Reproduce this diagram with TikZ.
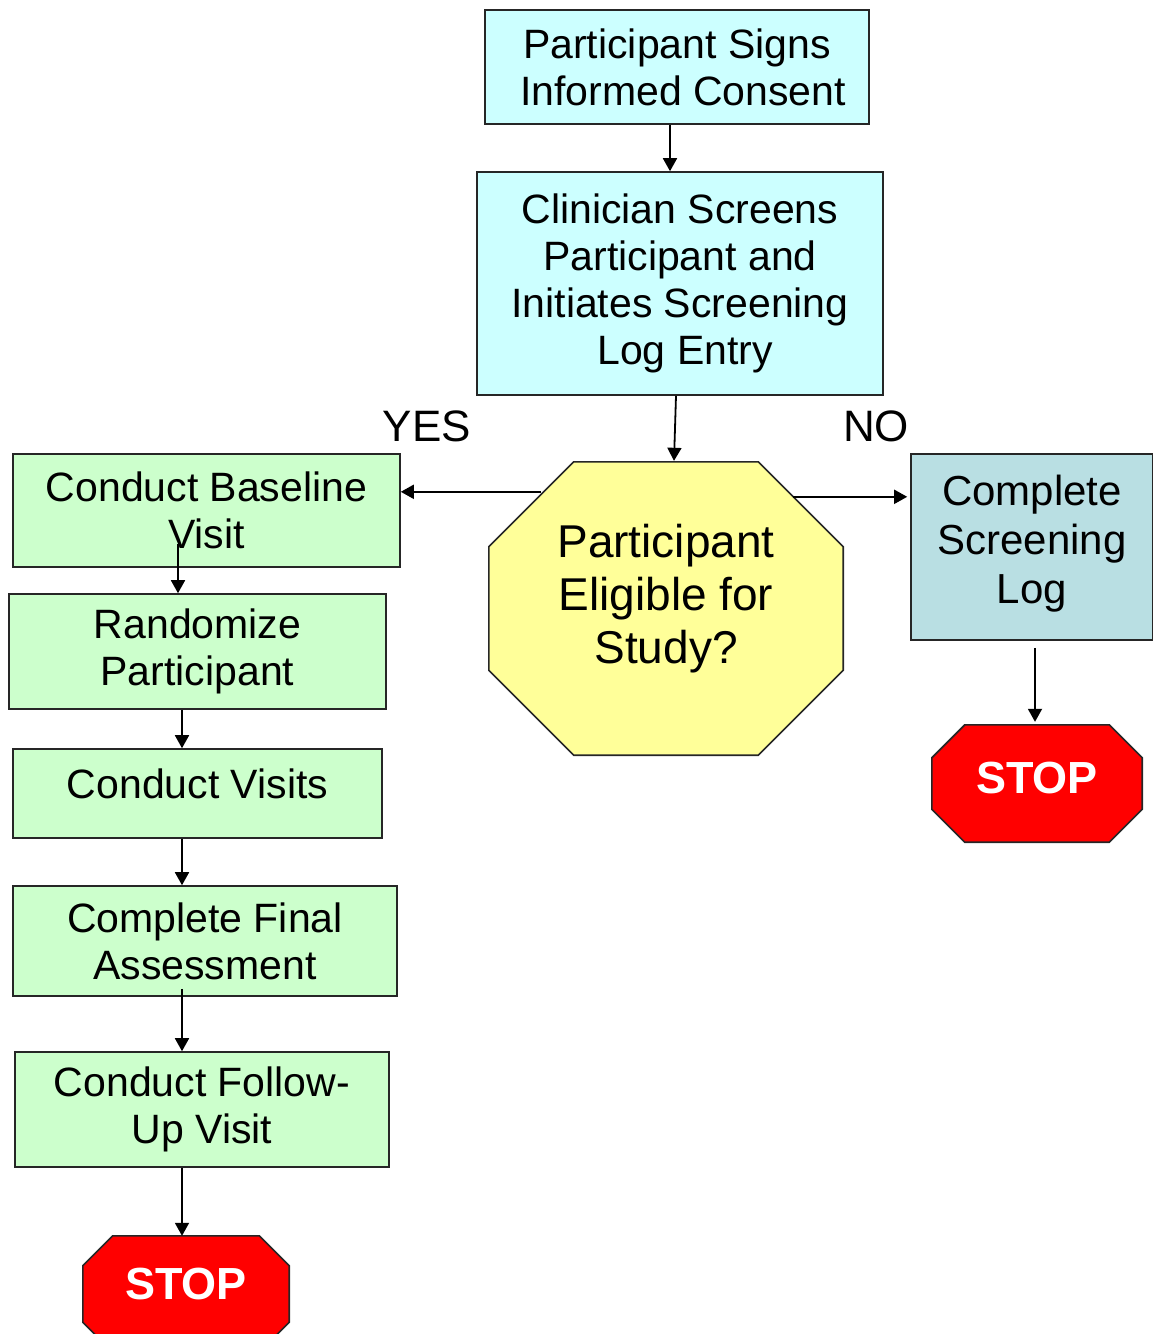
\documentclass[tikz,border=0pt]{standalone}
\usepackage{fontspec}
\setmainfont{Liberation Sans}
\usetikzlibrary{arrows.meta,calc}
\definecolor{cyanbox}{HTML}{CCFFFF}
\definecolor{greenbox}{HTML}{CCFFCC}
\definecolor{yellowbox}{HTML}{FFFF99}
\definecolor{logbox}{HTML}{B9DFE3}
\definecolor{stopred}{HTML}{FF0000}
\newcommand\octshape[3]{%
  \filldraw[#3] ($(#1.north west)+(#2,0)$) -- ($(#1.north east)+(-#2,0)$) -- ($(#1.north east)+(0,#2)$)
   -- ($(#1.south east)+(0,-#2)$) -- ($(#1.south east)+(-#2,0)$) -- ($(#1.south west)+(#2,0)$)
   -- ($(#1.south west)+(0,-#2)$) -- ($(#1.north west)+(0,#2)$) -- cycle;}
\begin{document}
\begin{tikzpicture}[x=1pt,y=-1pt,
  box/.style={draw=black!85, line width=1.6pt, align=center, inner sep=0pt, font=\fontsize{41}{47}\selectfont},
  octline/.style={draw=black!85, line width=1.6pt},
  lbl/.style={inner sep=0pt, font=\fontsize{44}{50}\selectfont},
  stoptxt/.style={inner sep=0pt, text=white, font=\fontsize{45}{50}\selectfont\bfseries},
  arr/.style={line width=1.8pt, -{Triangle[width=14pt,length=13pt]}}]
\useasboundingbox (0,0) rectangle (1153,1334);

% top boxes
\node[box, fill=cyanbox, minimum width=384pt, minimum height=114pt] (consent) at (677,67) {Participant Signs\\\hspace*{12pt}Informed Consent};
\node[box, fill=cyanbox, minimum width=406pt, minimum height=223pt, text depth=8pt] (clin) at (680,283.5) {Clinician Screens\\Participant and\\Initiates Screening\\\hspace*{10pt}Log Entry};

% decision octagon
\node[inner sep=0pt, minimum width=354pt, minimum height=293pt] (elig) at (666,608.5) {};
\octshape{elig}{85}{octline, fill=yellowbox}
\node[inner sep=0pt, align=center, font=\fontsize{46}{53}\selectfont] (eligtxt) at (666,599) {Participant\\Eligible for\\Study?};

\node[lbl] (yes) at (427,426) {YES};
\node[lbl] (no) at (876,426) {NO};

% right branch
\node[box, fill=logbox, minimum width=242pt, minimum height=186pt, font=\fontsize{42}{49}\selectfont, text depth=16pt] (screen) at (1032,547) {Complete\\Screening\\Log};
\node[inner sep=0pt, minimum width=210pt, minimum height=117pt] (stopR) at (1037,783.5) {};
\octshape{stopR}{33}{octline, fill=stopred}
\node[stoptxt] (stopRtxt) at (1037,778) {STOP};

% left branch
\node[box, fill=greenbox, minimum width=387pt, minimum height=113pt] (base) at (206.5,510.5) {Conduct Baseline\\Visit};
\node[box, fill=greenbox, minimum width=377pt, minimum height=115pt] (rand) at (197.5,651.5) {Randomize\\Participant};
\node[box, fill=greenbox, minimum width=369pt, minimum height=89pt, text depth=20pt] (visits) at (197.5,793.5) {Conduct Visits};
\node[box, fill=greenbox, minimum width=384pt, minimum height=110pt] (final) at (205,941) {Complete Final\\Assessment};
\node[box, fill=greenbox, minimum width=374pt, minimum height=115pt] (follow) at (202,1109.5) {Conduct Follow-\\Up Visit};
\node[inner sep=0pt, minimum width=206pt, minimum height=116pt] (stopB) at (186,1294) {};
\octshape{stopB}{30}{octline, fill=stopred}
\node[stoptxt] (stopBtxt) at (186,1284) {STOP};

% connectors
\coordinate (c1) at ($(consent.south)+(-7,0)$);
\draw[arr] (c1) -- (c1 |- clin.north);
\draw[arr] ($(clin.south)+(-4,0)$) -- ($(elig.north)+(8,-1)$);
\coordinate (yesstart) at ($(elig.north west)+(52,30)$);
\draw[arr] (yesstart) -- (yesstart -| base.east);
\coordinate (nostart) at ($(elig.north east)+(-50,35)$);
\draw[arr] (nostart) -- ($(nostart -| screen.west)+(-3,0)$);
\coordinate (s1) at ($(screen.south)+(3,7)$);
\draw[arr] (s1) -- ($(s1 |- stopR.north)+(0,-3)$);
\coordinate (b1) at ($(base.south)+(-28.5,-24)$);
\draw[arr] (b1) -- (b1 |- rand.north);
\coordinate (r1) at ($(rand.south)+(-15.5,0)$);
\draw[arr] (r1) -- (r1 |- visits.north);
\coordinate (v1) at ($(visits.south)+(-15.5,0)$);
\draw[arr] (v1) -- (v1 |- final.north);
\coordinate (f1) at ($(final.south)+(-23,-8)$);
\draw[arr] (f1) -- (f1 |- follow.north);
\coordinate (u1) at ($(follow.south)+(-20,0)$);
\draw[arr] (u1) -- (u1 |- stopB.north);
\end{tikzpicture}
\end{document}
